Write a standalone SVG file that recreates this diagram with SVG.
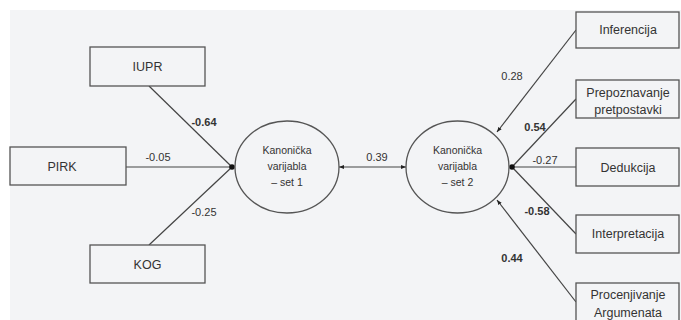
<svg xmlns="http://www.w3.org/2000/svg" width="681" height="320" viewBox="0 0 681 320">
<defs>
<style>
.box{fill:#f3f4f6;stroke:#555;stroke-width:1.3}
.ell{fill:#f3f4f6;stroke:#555;stroke-width:1.3}
.edge{stroke:#444;stroke-width:1.2;fill:none}
.lbl{font-family:"Liberation Sans",Arial,sans-serif;font-size:12.5px;fill:#333;text-anchor:middle}
.el{font-family:"Liberation Sans",Arial,sans-serif;font-size:10.5px;fill:#333;text-anchor:middle}
.num{font-family:"Liberation Sans",Arial,sans-serif;font-size:11px;fill:#333;text-anchor:middle}
.b{font-weight:bold}
</style>
<marker id="ah" viewBox="0 0 10 10" refX="10" refY="5" markerWidth="5" markerHeight="5" orient="auto-start-reverse" markerUnits="userSpaceOnUse">
<path d="M0,1 L10,5 L0,9 z" fill="#222"/>
</marker>
</defs>
<rect x="0" y="0" width="681" height="320" fill="#ffffff"/>
<rect x="10" y="10" width="671" height="310" fill="#f3f4f6"/>
<g id="connectors">
<line class="edge" x1="149" y1="86" x2="232" y2="167"/>
<line class="edge" x1="126" y1="167" x2="232" y2="167"/>
<line class="edge" x1="149" y1="245" x2="232" y2="167"/>
<circle cx="232" cy="167" r="2.8" fill="#111"/>
<line class="edge" x1="339" y1="167" x2="406" y2="167" marker-start="url(#ah)" marker-end="url(#ah)"/>
<line class="edge" x1="576" y1="30" x2="497" y2="132" marker-end="url(#ah)"/>
<line class="edge" x1="576" y1="99" x2="512" y2="167"/>
<line class="edge" x1="576" y1="167" x2="512" y2="167"/>
<line class="edge" x1="576" y1="234" x2="512" y2="167"/>
<line class="edge" x1="576" y1="302" x2="497" y2="200" marker-end="url(#ah)"/>
<circle cx="512" cy="167" r="2.8" fill="#111"/>
<text class="num b" x="204" y="126">-0.64</text>
<text class="num" x="158" y="161">-0.05</text>
<text class="num" x="204" y="216">-0.25</text>
<text class="num" x="377" y="161">0.39</text>
<text class="num" x="512" y="80">0.28</text>
<text class="num b" x="535" y="131">0.54</text>
<text class="num" x="545" y="164">-0.27</text>
<text class="num b" x="537" y="215">-0.58</text>
<text class="num b" x="512" y="262">0.44</text>
</g>
<g id="IUPR"><rect class="box" x="90" y="47" width="115" height="39"/><text class="lbl" x="147.5" y="71">IUPR</text></g>
<g id="PIRK"><rect class="box" x="10" y="147" width="116" height="38"/><text class="lbl" x="62" y="171">PIRK</text></g>
<g id="KOG"><rect class="box" x="90" y="245" width="115" height="38"/><text class="lbl" x="147.5" y="269">KOG</text></g>
<g id="set1"><ellipse class="ell" cx="287" cy="167" rx="52" ry="46"/>
<text class="el" x="287" y="154">Kanonička</text><text class="el" x="287" y="170">varijabla</text><text class="el" x="287" y="186">– set 1</text></g>
<g id="set2"><ellipse class="ell" cx="457.5" cy="167" rx="51.5" ry="46"/>
<text class="el" x="457.5" y="154">Kanonička</text><text class="el" x="457.5" y="170">varijabla</text><text class="el" x="457.5" y="186">– set 2</text></g>
<g id="Inferencija"><rect class="box" x="576" y="12" width="103" height="36"/><text class="lbl" x="628" y="34">Inferencija</text></g>
<g id="Prepoznavanje"><rect class="box" x="576" y="80" width="103" height="38"/><text class="lbl" x="628" y="97">Prepoznavanje</text><text class="lbl" x="628" y="114">pretpostavki</text></g>
<g id="Dedukcija"><rect class="box" x="576" y="148" width="103" height="38"/><text class="lbl" x="628" y="172">Dedukcija</text></g>
<g id="Interpretacija"><rect class="box" x="576" y="215" width="103" height="38"/><text class="lbl" x="628" y="238">Interpretacija</text></g>
<g id="Procenjivanje"><rect class="box" x="576" y="283" width="103" height="45"/><text class="lbl" x="628" y="299">Procenjivanje</text><text class="lbl" x="628" y="317">Argumenata</text></g>
</svg>
